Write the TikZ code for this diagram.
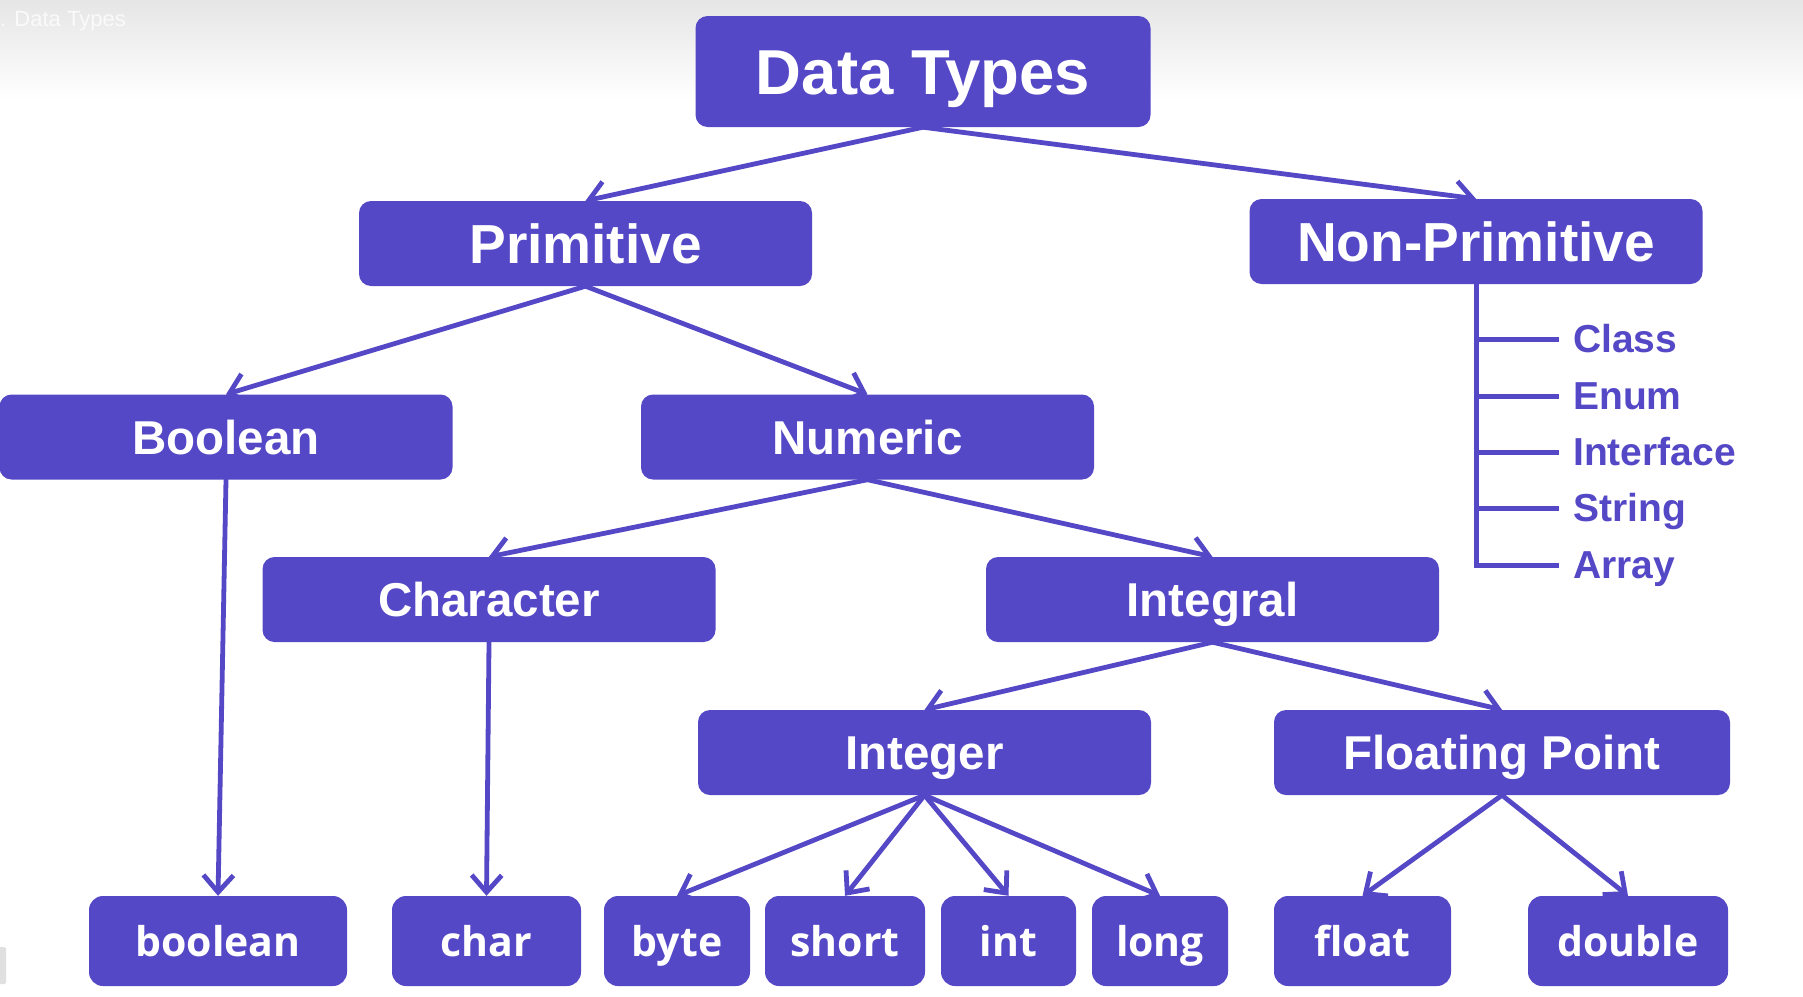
\documentclass[tikz,border=0pt]{standalone}
\usepackage{fontspec}
\setmainfont{Liberation Sans}
\newfontfamily\osans{Open Sans}
\usetikzlibrary{arrows.meta,calc}
\definecolor{bx}{RGB}{85,72,198}
\begin{document}
\begin{tikzpicture}[x=1pt,y=-1pt,
 box/.style={fill=bx, rounded corners=12pt, text=white, inner sep=0pt, minimum width=453pt, minimum height=85pt, text depth=0pt},
 big/.style={box, font=\fontsize{63.5}{70}\selectfont\bfseries, text height=45.4pt, minimum width=455pt, minimum height=111pt},
 lvltwo/.style={box, font=\fontsize{55}{60}\selectfont\bfseries, text height=39.4pt},
 lvlthree/.style={box, font=\fontsize{47.5}{52}\selectfont\bfseries, text height=34pt},
 leaf/.style={fill=bx, rounded corners=14pt, text=white, inner sep=0pt, font=\osans\fontsize{41}{46}\selectfont\bfseries, text height=31.2pt, text depth=0pt, minimum height=90pt},
 conn/.style={draw=bx, line width=4.8pt, line cap=round, line join=round, -{Straight Barb[length=17pt,width=30pt]}},
 lst/.style={text=bx, font=\fontsize{39}{44}\selectfont\bfseries, inner sep=0pt, text height=27.9pt, text depth=0pt, anchor=west},
 branch/.style={draw=bx, line width=5pt}
]
\useasboundingbox (0,0) rectangle (1803,996);
\fill[white] (0,0) rectangle (1803,996);
\shade[top color=black!10, bottom color=white] (0,0) rectangle (1803,100);
\node[anchor=base west, text=white!98!black, font=\fontsize{22}{26}\selectfont, inner sep=0pt] (ttl) at (0,26) {. Data Types};
\fill[black!12, rounded corners=1.5pt] (-3,947) rectangle (6,984);

% boxes
\node[big] (dt) at (923,71.5) {Data Types};
\node[lvltwo] (prim) at (585.5,243.5) {Primitive};
\node[lvltwo] (np) at (1476,241.5) {Non-Primitive};
\node[lvlthree] (bool) at (226,437) {Boolean};
\node[lvlthree] (num) at (867.5,437) {Numeric};
\node[lvlthree] (chr) at (489,599.5) {Character};
\node[lvlthree] (intg) at (1212.5,599.5) {Integral};
\node[lvlthree] (integer) at (924.5,752.5) {Integer};
\node[lvlthree, minimum width=456pt] (fp) at (1502,752.5) {Floating Point};

\node[leaf, minimum width=258pt] (lboolean) at (218,941) {boolean};
\node[leaf, minimum width=189pt] (lchar) at (486.5,941) {char};
\node[leaf, minimum width=146pt] (lbyte) at (677,941) {byte};
\node[leaf, minimum width=160pt] (lshort) at (845,941) {short};
\node[leaf, minimum width=135pt] (lint) at (1008.5,941) {int};
\node[leaf, minimum width=136pt] (llong) at (1160,941) {long};
\node[leaf, minimum width=177pt] (lfloat) at (1362.5,941) {float};
\node[leaf, minimum width=200pt] (ldouble) at (1628,941) {double};

% connectors
\draw[conn] (dt.south) -- (prim.north);
\draw[conn] (dt.south) -- (np.north);
\draw[conn] (prim.south) -- (bool.north);
\draw[conn] (prim.south) -- (num.north);
\draw[conn] (bool.south) -- (lboolean.north);
\draw[conn] (num.south) -- (chr.north);
\draw[conn] (num.south) -- (intg.north);
\draw[conn] (chr.south) -- (lchar.north);
\draw[conn] (intg.south) -- (integer.north);
\draw[conn] (intg.south) -- (fp.north);
\draw[conn] (integer.south) -- (lbyte.north);
\draw[conn] (integer.south) -- (lshort.north);
\draw[conn] (integer.south) -- (lint.north);
\draw[conn] (integer.south) -- (llong.north);
\draw[conn] (fp.south) -- (lfloat.north);
\draw[conn] (fp.south) -- (ldouble.north);

% non-primitive list
\coordinate (b1) at (1559,339);
\coordinate (b2) at (1559,396);
\coordinate (b3) at (1559,452);
\coordinate (b4) at (1559,508);
\coordinate (b5) at (1559,565);
\node[lst] (cls) at ($(b1)+(14,0)$) {Class};
\node[lst] (enm) at ($(b2)+(14,0)$) {Enum};
\node[lst] (ifc) at ($(b3)+(14,0)$) {Interface};
\node[lst] (str) at ($(b4)+(14,0)$) {String};
\node[lst] (arr) at ($(b5)+(14,0)$) {Array};
\draw[branch] (np.south) -- (np.south |- b5) -- (b5);
\draw[branch] (np.south |- b1) -- (b1);
\draw[branch] (np.south |- b2) -- (b2);
\draw[branch] (np.south |- b3) -- (b3);
\draw[branch] (np.south |- b4) -- (b4);
\end{tikzpicture}
\end{document}
